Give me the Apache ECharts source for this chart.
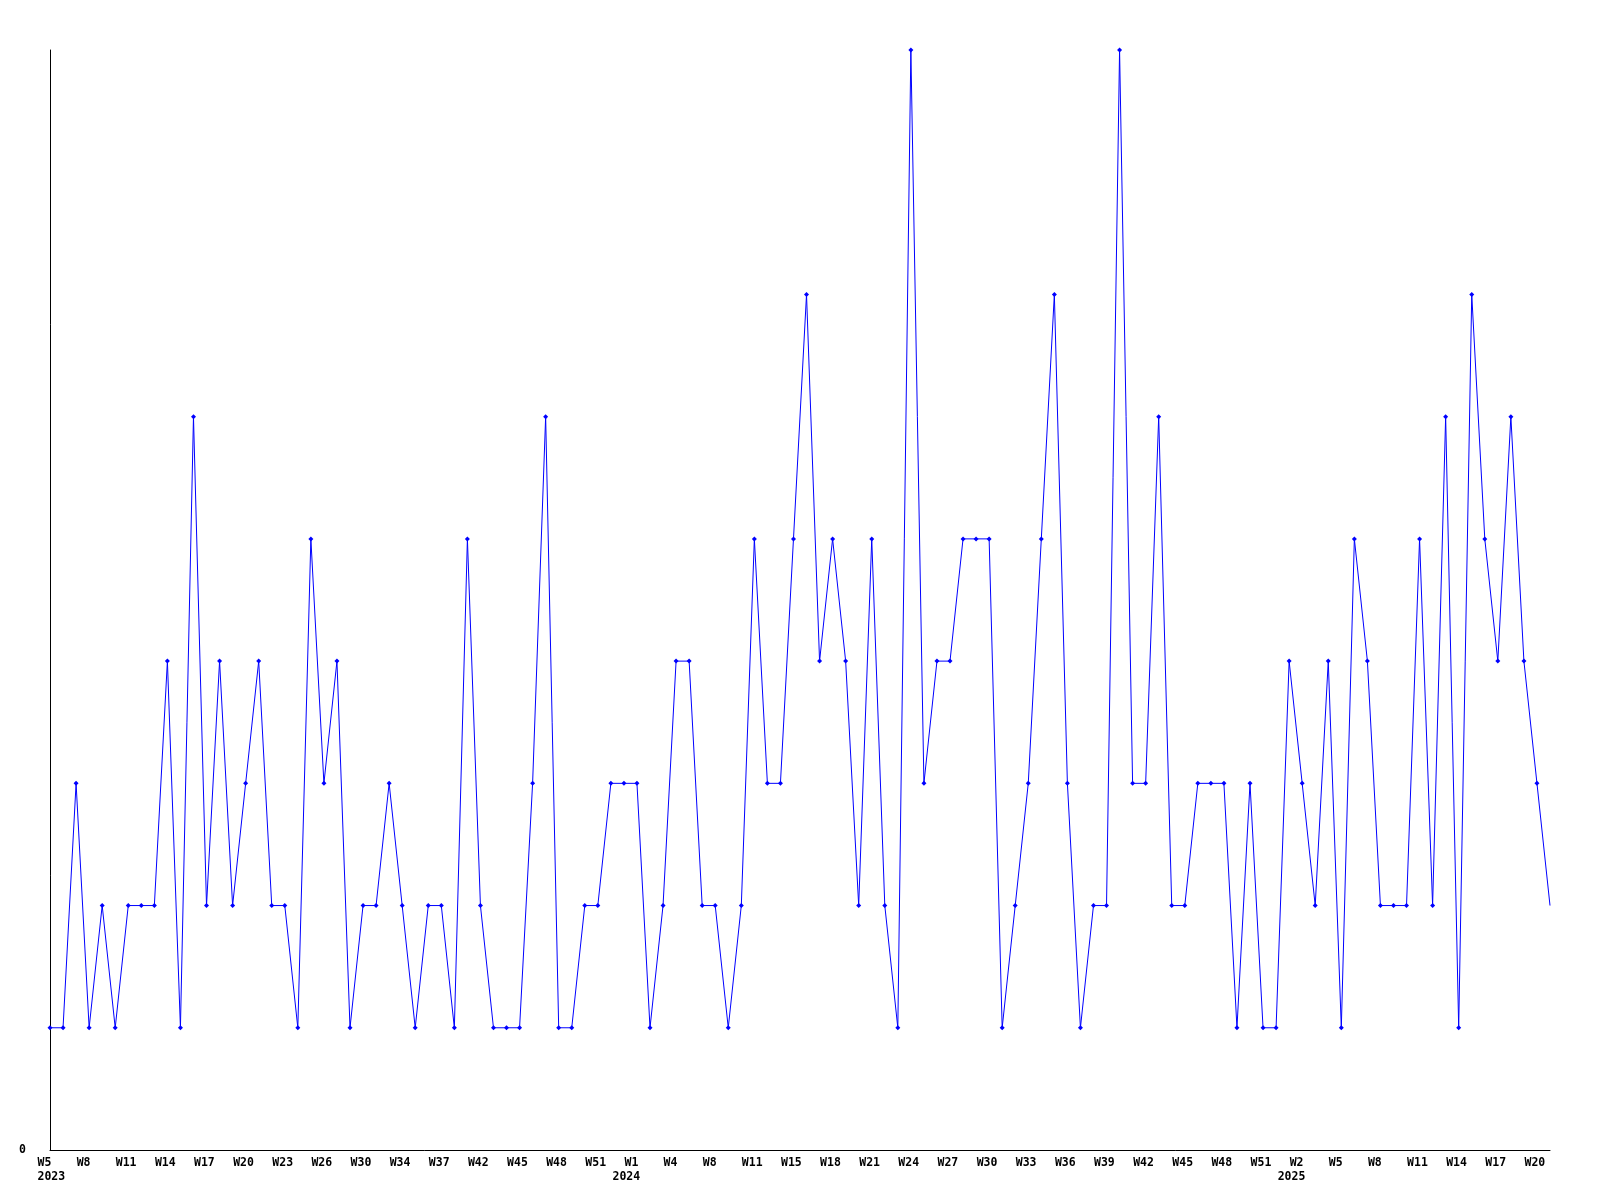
<!DOCTYPE html>
<html>
<head>
<meta charset="utf-8">
<script src="https://cdn.jsdelivr.net/npm/echarts@6/dist/echarts.min.js"></script>
<style>
html,body{margin:0;padding:0;background:#fff;}
#chart{width:1600px;height:1200px;}
</style>
</head>
<body>
<div id="chart"></div>
<script>
// Week categories (weeks with no entries are absent)
const weeks2023 = ['W5','W6','W7','W8','W9','W10','W11','W12','W13','W14','W15','W16','W17','W18','W19','W20','W21','W22','W23','W24','W25','W26','W27','W28',
  'W30','W31','W32','W34','W35','W36','W37','W38','W40',
  'W42','W43','W44','W45','W46','W47','W48','W49','W50','W51','W52','W53'];
const weeks2024 = ['W1','W2','W3','W4','W5','W7','W8','W9','W10','W11','W12',
  'W14','W15','W16','W17','W18','W19','W20','W21','W22','W23','W24','W25','W26','W27','W28','W29','W30','W31','W32','W33',
  'W34','W35','W36','W37','W38','W39','W40','W41','W42','W43','W44','W45','W46','W47','W48','W49','W50','W51','W52'];
const weeks2025 = ['W1','W2','W3','W4','W5','W6','W7','W8','W9','W10','W11','W12','W13','W14','W15','W16','W17','W18','W19','W20','W21'];

// Weekly counts
const values2023 = [1,1,3,1,2,1,2,2,2,4,1,6,2,4,2,3,4,2,2,1,5,3,4,1,2,2,3,2,1,2,2,1,5,2,1,1,1,3,6,1,1,2,2,3,3];
const values2024 = [3,1,2,4,4,2,2,1,2,5,3,3,5,7,4,5,4,2,5,2,1,9,3,4,4,5,5,5,1,2,3,5,7,3,1,2,2,9,3,3,6,2,2,3,3,3,1,3,1,1];
const values2025 = [4,3,2,4,1,5,4,2,2,2,5,2,6,1,7,5,4,6,4,3,2];

const yTickLabels = ['0'];

const cats = [];
const years = [];
weeks2023.forEach(w => { cats.push('2023-' + w); years.push('2023'); });
weeks2024.forEach(w => { cats.push('2024-' + w); years.push('2024'); });
weeks2025.forEach(w => { cats.push('2025-' + w); years.push('2025'); });
const allValues = values2023.concat(values2024, values2025);
const seriesData = allValues.map((v, i) => i === allValues.length - 1 ? {value: v, symbol: 'none'} : v);

// indices of the first shown week label of each year
const yearLabelIdx = [];
for (let i = 0; i < cats.length; i += 3) {
  if (i === 0 || years[i - 3] !== years[i]) yearLabelIdx.push(i);
}

const FONT = {fontFamily: 'DejaVu Sans Mono', fontWeight: 'bold', fontSize: 11.5, color: '#000', lineHeight: 14};

const chart = echarts.init(document.getElementById('chart'), null, {renderer: 'canvas'});
chart.setOption({
  animation: false,
  backgroundColor: '#ffffff',
  grid: {left: 50, right: 50, top: 50, bottom: 50, containLabel: false},
  xAxis: [{
    type: 'category',
    data: cats,
    boundaryGap: false,
    axisLine: {show: true, lineStyle: {color: '#000', width: 1}},
    axisTick: {show: false},
    splitLine: {show: false},
    axisLabel: Object.assign({
      interval: 2,
      margin: 6,
      align: 'center',
      showMinLabel: true,
      showMaxLabel: true,
      formatter: function (val, idx) {
        if (idx % 3 !== 0) return '';
        return '{w|' + val.split('-')[1] + '}';
      },
      rich: {
        w: Object.assign({width: 25, align: 'left'}, FONT)
      }
    }, FONT)
  }, {
    type: 'category',
    data: cats,
    boundaryGap: false,
    position: 'bottom',
    axisLine: {show: false},
    axisTick: {show: false},
    splitLine: {show: false},
    axisLabel: Object.assign({
      interval: function (idx) { return yearLabelIdx.indexOf(idx) >= 0; },
      margin: 20,
      align: 'center',
      formatter: function (val, idx) {
        if (yearLabelIdx.indexOf(idx) < 0) return '';
        const y = val.split('-')[0];
        return idx === 0 ? '{b| }{c|' + y + '}' : '{y|' + y + '}';
      },
      rich: {
        b: Object.assign({width: 12, align: 'left'}, FONT),
        c: Object.assign({width: 37, align: 'left'}, FONT),
        y: Object.assign({width: 49, align: 'left'}, FONT)
      }
    }, FONT)
  }],
  yAxis: {
    type: 'value',
    min: 0,
    max: 9,
    interval: 9,
    axisLine: {show: true, lineStyle: {color: '#000', width: 1}},
    axisTick: {show: false},
    splitLine: {show: false},
    axisLabel: Object.assign({
      margin: 24,
      formatter: function (v) { return v === 0 ? yTickLabels[0] : ''; }
    }, FONT)
  },
  series: [{
    type: 'line',
    xAxisIndex: 0,
    data: seriesData,
    symbol: 'diamond',
    symbolSize: 5,
    showSymbol: true,
    lineStyle: {color: '#0000ff', width: 1},
    itemStyle: {color: '#0000ff'},
    emphasis: {disabled: true}
  }]
});
</script>
</body>
</html>
